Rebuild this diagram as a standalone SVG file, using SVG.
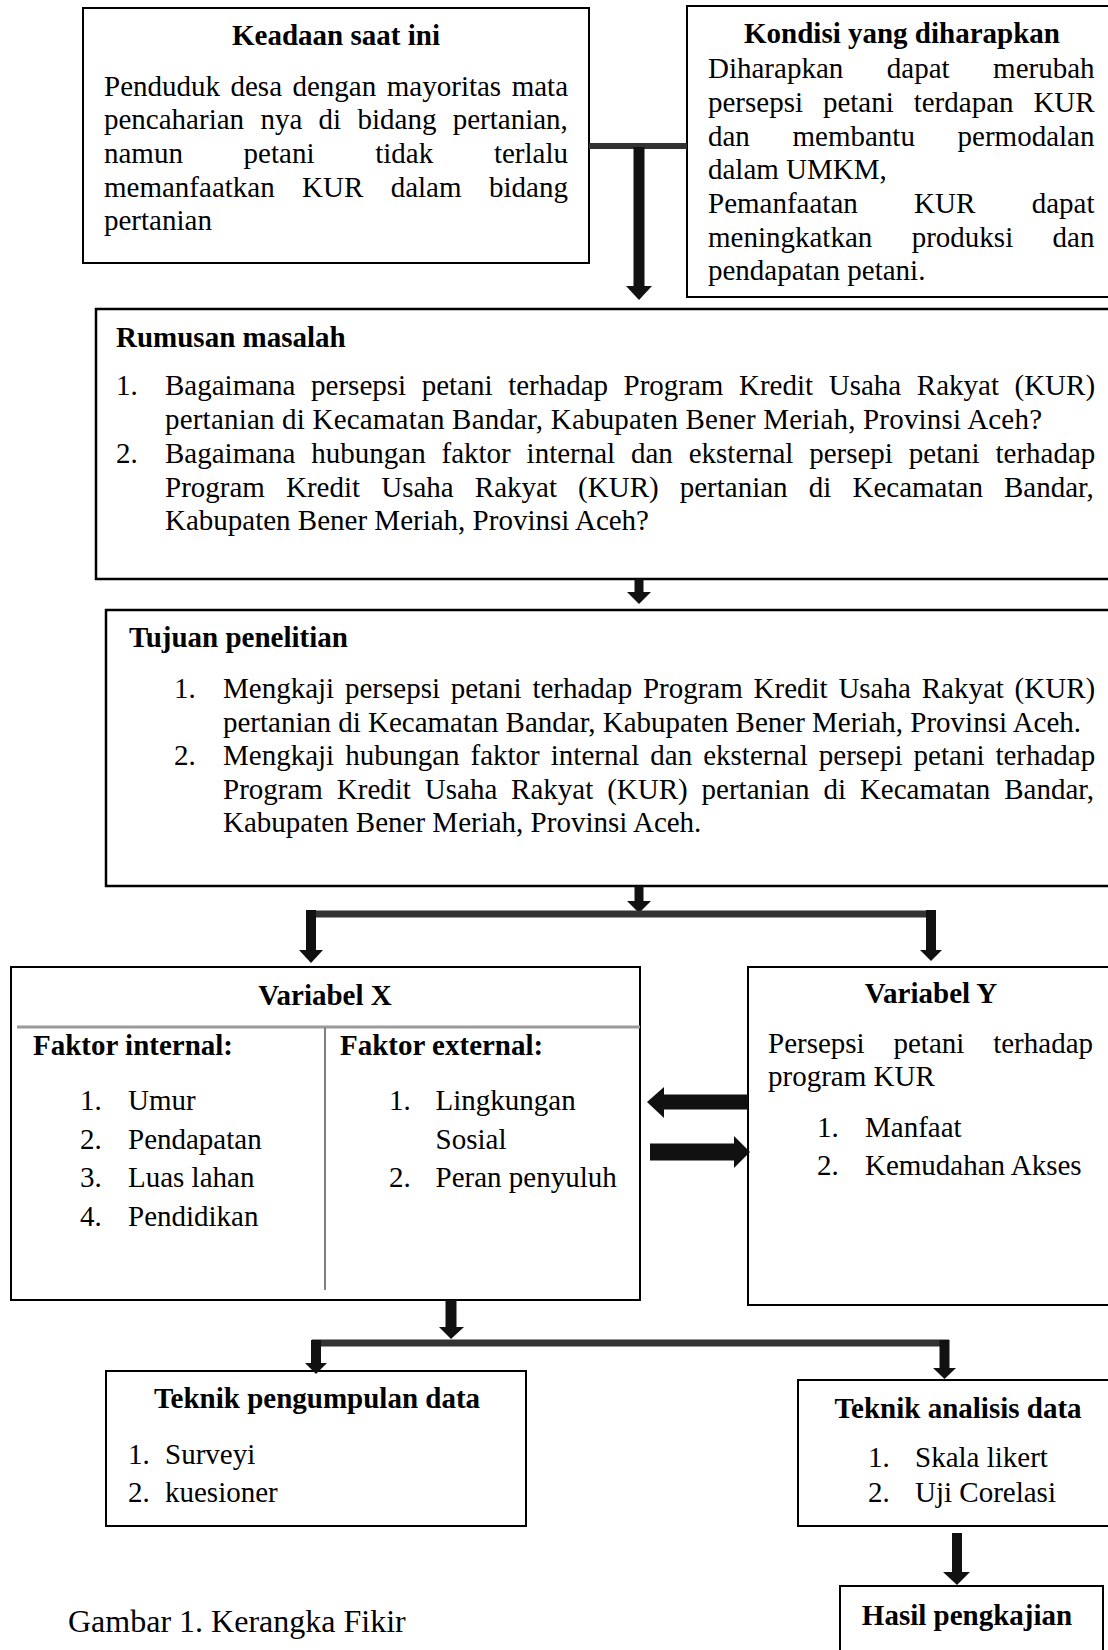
<svg xmlns="http://www.w3.org/2000/svg" width="1108" height="1650" viewBox="0 0 1108 1650">
<style>
.t{font-family:"Liberation Serif","Times New Roman",serif;font-size:29px;fill:#000}
.b{font-weight:bold}
.m{text-anchor:middle}
.box{fill:#fff;stroke:#000;stroke-width:2}
.bar{stroke:#333;fill:none}
.shaft{stroke:#111;fill:none}
.head{fill:#111}
</style>
<rect width="1108" height="1650" fill="#fff"/>

<g id="keadaan">
<rect class="box" x="83" y="8" width="506" height="255"/>
<text class="t b m" x="336" y="45">Keadaan saat ini</text>
<text class="t" y="95.5"><tspan x="104">Penduduk</tspan><tspan x="230.5">desa</tspan><tspan x="292.5">dengan</tspan><tspan x="386.8">mayoritas</tspan><tspan x="511.7">mata</tspan></text>
<text class="t" y="129.2"><tspan x="104">pencaharian</tspan><tspan x="260.4">nya</tspan><tspan x="318.6">di</tspan><tspan x="357.5">bidang</tspan><tspan x="452.7">pertanian,</tspan></text>
<text class="t" y="162.9"><tspan x="104">namun</tspan><tspan x="243.6">petani</tspan><tspan x="375.2">tidak</tspan><tspan x="493.9">terlalu</tspan></text>
<text class="t" y="196.6"><tspan x="104">memanfaatkan</tspan><tspan x="302.1">KUR</tspan><tspan x="390.7">dalam</tspan><tspan x="489">bidang</tspan></text>
<text class="t" x="104" y="230.3">pertanian</text>
</g>

<g id="kondisi">
<rect class="box" x="687" y="6" width="430" height="291"/>
<text class="t b m" x="902" y="43">Kondisi yang diharapkan</text>
<text class="t" y="78"><tspan x="708">Diharapkan</tspan><tspan x="886.8">dapat</tspan><tspan x="993.1">merubah</tspan></text>
<text class="t" y="112"><tspan x="708">persepsi</tspan><tspan x="822.9">petani</tspan><tspan x="913.7">terdapan</tspan><tspan x="1033.4">KUR</tspan></text>
<text class="t" y="145.5"><tspan x="708">dan</tspan><tspan x="792.5">membantu</tspan><tspan x="957.6">permodalan</tspan></text>
<text class="t" x="708" y="179">dalam UMKM,</text>
<text class="t" y="213"><tspan x="708">Pemanfaatan</tspan><tspan x="914.1">KUR</tspan><tspan x="1031.7">dapat</tspan></text>
<text class="t" y="246.5"><tspan x="708">meningkatkan</tspan><tspan x="911.7">produksi</tspan><tspan x="1052.6">dan</tspan></text>
<text class="t" x="708" y="280">pendapatan petani.</text>
</g>

<g id="rumusan">
<rect class="box" x="96" y="309" width="1020" height="270" style="stroke-width:2.5"/>
<text class="t b" x="116" y="347">Rumusan masalah</text>
<text class="t" x="116" y="395">1.</text>
<text class="t" y="395"><tspan x="165">Bagaimana</tspan><tspan x="311.1">persepsi</tspan><tspan x="421.7">petani</tspan><tspan x="508.2">terhadap</tspan><tspan x="623.5">Program</tspan><tspan x="739">Kredit</tspan><tspan x="828.7">Usaha</tspan><tspan x="916.8">Rakyat</tspan><tspan x="1014.5">(KUR)</tspan></text>
<text class="t" x="165" y="428.5" textLength="877" lengthAdjust="spacing">pertanian di Kecamatan Bandar, Kabupaten Bener Meriah, Provinsi Aceh?</text>
<text class="t" x="116" y="462.5">2.</text>
<text class="t" y="462.5"><tspan x="165">Bagaimana</tspan><tspan x="311.3">hubungan</tspan><tspan x="441.5">faktor</tspan><tspan x="526.6">internal</tspan><tspan x="631">dan</tspan><tspan x="688.7">eksternal</tspan><tspan x="809.2">persepi</tspan><tspan x="908.8">petani</tspan><tspan x="995.5">terhadap</tspan></text>
<text class="t" y="496.5"><tspan x="165">Program</tspan><tspan x="286">Kredit</tspan><tspan x="381.2">Usaha</tspan><tspan x="474.8">Rakyat</tspan><tspan x="578.1">(KUR)</tspan><tspan x="679.7">pertanian</tspan><tspan x="808.8">di</tspan><tspan x="852.5">Kecamatan</tspan><tspan x="1004">Bandar,</tspan></text>
<text class="t" x="165" y="530">Kabupaten Bener Meriah, Provinsi Aceh?</text>
</g>

<g id="tujuan">
<rect class="box" x="106" y="610" width="1010" height="276" style="stroke-width:2.5"/>
<text class="t b" x="129" y="647">Tujuan penelitian</text>
<text class="t" x="174" y="698">1.</text>
<text class="t" y="698"><tspan x="223">Mengkaji</tspan><tspan x="345">persepsi</tspan><tspan x="450.7">petani</tspan><tspan x="532.4">terhadap</tspan><tspan x="642.9">Program</tspan><tspan x="753.6">Kredit</tspan><tspan x="838.4">Usaha</tspan><tspan x="921.7">Rakyat</tspan><tspan x="1014.6">(KUR)</tspan></text>
<text class="t" x="223" y="731.5">pertanian di Kecamatan Bandar, Kabupaten Bener Meriah, Provinsi Aceh.</text>
<text class="t" x="174" y="765">2.</text>
<text class="t" y="765"><tspan x="223">Mengkaji</tspan><tspan x="345.2">hubungan</tspan><tspan x="470.5">faktor</tspan><tspan x="550.8">internal</tspan><tspan x="650.3">dan</tspan><tspan x="703.2">eksternal</tspan><tspan x="818.8">persepi</tspan><tspan x="913.6">petani</tspan><tspan x="995.4">terhadap</tspan></text>
<text class="t" y="798.5"><tspan x="223">Program</tspan><tspan x="336.8">Kredit</tspan><tspan x="424.8">Usaha</tspan><tspan x="511.1">Rakyat</tspan><tspan x="607.2">(KUR)</tspan><tspan x="701.6">pertanian</tspan><tspan x="823.4">di</tspan><tspan x="859.9">Kecamatan</tspan><tspan x="1004.2">Bandar,</tspan></text>
<text class="t" x="223" y="832">Kabupaten Bener Meriah, Provinsi Aceh.</text>
</g>

<g id="variabel-x">
<rect class="box" x="11" y="967" width="629" height="333"/>
<text class="t b m" x="325" y="1005">Variabel X</text>
<line x1="17" y1="1027" x2="640" y2="1027" stroke="#9a9a9a" stroke-width="3"/>
<line x1="325" y1="1028" x2="325" y2="1290" stroke="#555" stroke-width="1.5"/>
<text class="t b" x="33" y="1055">Faktor internal:</text>
<text class="t" x="80" y="1110">1.</text><text class="t" x="128" y="1110">Umur</text>
<text class="t" x="80" y="1148.5">2.</text><text class="t" x="128" y="1148.5">Pendapatan</text>
<text class="t" x="80" y="1187">3.</text><text class="t" x="128" y="1187">Luas lahan</text>
<text class="t" x="80" y="1225.5">4.</text><text class="t" x="128" y="1225.5">Pendidikan</text>
<text class="t b" x="340" y="1055">Faktor external:</text>
<text class="t" x="389" y="1110">1.</text><text class="t" x="435.6" y="1110">Lingkungan</text>
<text class="t" x="435.6" y="1148.5">Sosial</text>
<text class="t" x="389" y="1187">2.</text><text class="t" x="435.6" y="1187">Peran penyuluh</text>
</g>

<g id="variabel-y">
<rect class="box" x="748" y="967" width="370" height="338"/>
<text class="t b m" x="931" y="1003">Variabel Y</text>
<text class="t" y="1053"><tspan x="768">Persepsi</tspan><tspan x="893.5">petani</tspan><tspan x="993.2">terhadap</tspan></text>
<text class="t" x="768" y="1085.5">program KUR</text>
<text class="t" x="817" y="1137">1.</text><text class="t" x="865" y="1137">Manfaat</text>
<text class="t" x="817" y="1175">2.</text><text class="t" x="865" y="1175">Kemudahan Akses</text>
</g>

<g id="teknik-pengumpulan">
<rect class="box" x="106" y="1371" width="420" height="155"/>
<text class="t b m" x="317" y="1408">Teknik pengumpulan data</text>
<text class="t" x="128" y="1464">1.</text><text class="t" x="165" y="1464">Surveyi</text>
<text class="t" x="128" y="1502">2.</text><text class="t" x="165" y="1502">kuesioner</text>
</g>

<g id="teknik-analisis">
<rect class="box" x="798" y="1380" width="320" height="146"/>
<text class="t b m" x="958" y="1418">Teknik analisis data</text>
<text class="t" x="868" y="1467">1.</text><text class="t" x="915" y="1467">Skala likert</text>
<text class="t" x="868" y="1502">2.</text><text class="t" x="915" y="1502">Uji Corelasi</text>
</g>

<g id="hasil">
<rect class="box" x="840" y="1586" width="263" height="80"/>
<text class="t b m" x="967" y="1625">Hasil pengkajian</text>
</g>

<text class="t" x="68" y="1632" style="font-size:32px">Gambar 1. Kerangka Fikir</text>

<g id="connectors">
<line class="bar" x1="589" y1="146" x2="687" y2="146" style="stroke-width:6"/>
<line class="shaft" x1="639" y1="147" x2="639" y2="288" style="stroke-width:11"/>
<polygon class="head" points="626,286 652,286 639,300"/>

<line class="shaft" x1="639" y1="579" x2="639" y2="593" style="stroke-width:9"/>
<polygon class="head" points="627,592 651,592 639,604"/>

<line class="shaft" x1="639" y1="886" x2="639" y2="902" style="stroke-width:9"/>
<polygon class="head" points="627,901 651,901 639,913"/>
<line class="bar" x1="307" y1="914" x2="935" y2="914" style="stroke-width:7"/>
<line class="shaft" x1="311" y1="910" x2="311" y2="952" style="stroke-width:10"/>
<polygon class="head" points="299,950 323,950 311,963"/>
<line class="shaft" x1="931" y1="910" x2="931" y2="951" style="stroke-width:10"/>
<polygon class="head" points="920,950 942,950 931,961"/>

<line class="shaft" x1="748" y1="1102" x2="661" y2="1102" style="stroke-width:15"/>
<polygon class="head" points="664,1087 664,1118 647,1102"/>
<line class="shaft" x1="650" y1="1152" x2="736" y2="1152" style="stroke-width:17"/>
<polygon class="head" points="734,1136 734,1168 750,1152"/>

<line class="shaft" x1="451" y1="1300" x2="451" y2="1328" style="stroke-width:11"/>
<polygon class="head" points="439,1327 464,1327 451,1339"/>
<line class="bar" x1="312" y1="1343" x2="949" y2="1343" style="stroke-width:7"/>
<line class="shaft" x1="316" y1="1340" x2="316" y2="1364" style="stroke-width:10"/>
<polygon class="head" points="305,1363 327,1363 316,1374"/>
<line class="shaft" x1="944.5" y1="1340" x2="944.5" y2="1369" style="stroke-width:10"/>
<polygon class="head" points="933,1368 956,1368 944.5,1379"/>

<line class="shaft" x1="957" y1="1533" x2="957" y2="1573" style="stroke-width:10"/>
<polygon class="head" points="943,1572 970,1572 957,1585"/>
</g>
</svg>
